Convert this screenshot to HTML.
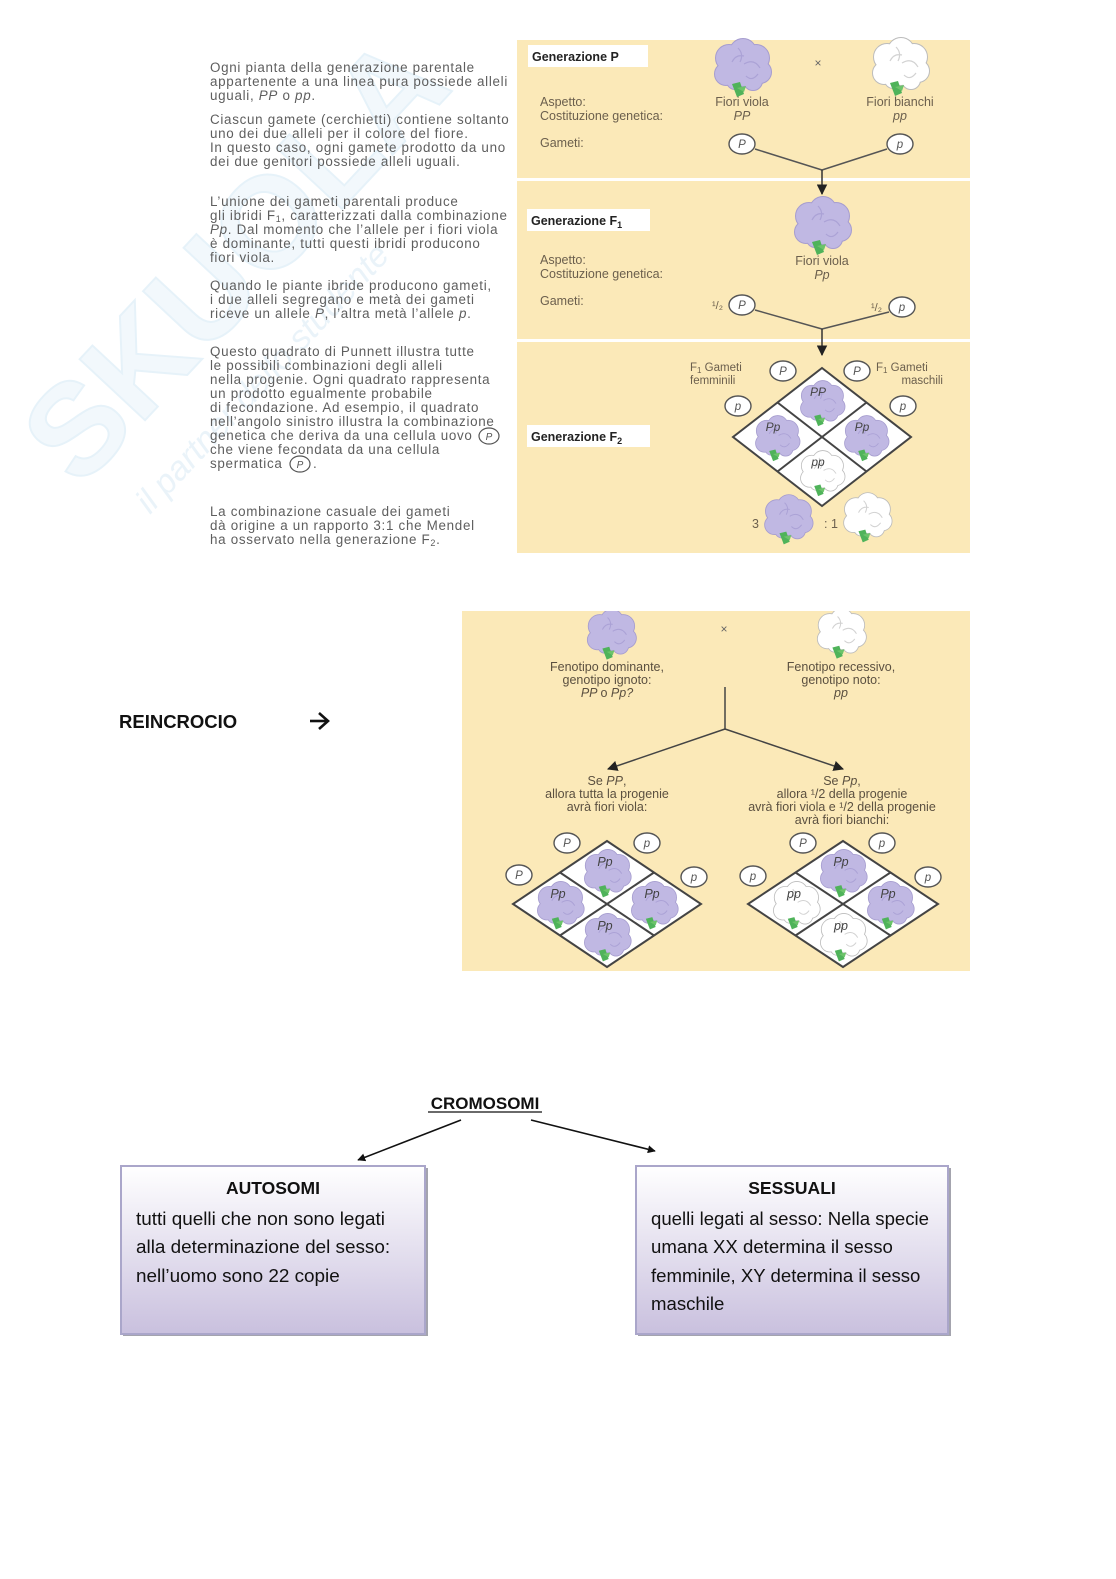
<!DOCTYPE html>
<html><head><meta charset="utf-8"><style>
html,body{margin:0;padding:0;background:#fff;}
svg{display:block;}
</style></head><body>
<svg xmlns="http://www.w3.org/2000/svg" width="1116" height="1579" viewBox="0 0 1116 1579" font-family="'Liberation Sans', sans-serif">
<defs>
<g id="cl">
<circle cx="-13" cy="-8" r="13"/>
<circle cx="1" cy="-14" r="13"/>
<circle cx="14" cy="-8" r="13"/>
<circle cx="18" cy="6" r="11"/>
<circle cx="-16" cy="8" r="11"/>
<circle cx="1" cy="5" r="15"/>
<circle cx="11" cy="15" r="9"/>
<circle cx="-7" cy="15" r="8"/>
</g>
<g id="fv">
<use href="#cl" fill="#a69dcf" stroke="#a69dcf" stroke-width="2"/>
<use href="#cl" fill="#c0b8e3"/>
<path d="M2 -2 q10 -6 16 4 M4 10 q6 6 12 -2 M-10 -4 q4 -8 12 -6 M-4 -18 q6 6 2 14" fill="none" stroke="#aba2d6" stroke-width="1.2"/>
<path d="M-10 18 L-5 31 L2 28 L-2 16 Z" fill="#4fb35a"/>
<path d="M-5 22 L4 20 L2 26 Z" fill="#6cc36a"/>
</g>
<g id="fw">
<use href="#cl" fill="#bcbcbc" stroke="#bcbcbc" stroke-width="2"/>
<use href="#cl" fill="#ffffff"/>
<path d="M2 -2 q10 -6 16 4 M4 10 q6 6 12 -2 M-10 -4 q4 -8 12 -6 M-4 -18 q6 6 2 14" fill="none" stroke="#d2d2d2" stroke-width="1.2"/>
<path d="M-10 18 L-5 31 L2 28 L-2 16 Z" fill="#4fb35a"/>
<path d="M-5 22 L4 20 L2 26 Z" fill="#6cc36a"/>
</g>
<marker id="ah" viewBox="0 0 10 10" refX="9" refY="5" markerWidth="7" markerHeight="7" orient="auto">
<path d="M0 0 L10 5 L0 10 Z" fill="#222"/>
</marker>
<marker id="ah2" viewBox="0 0 10 10" refX="9" refY="5" markerWidth="5" markerHeight="5" orient="auto">
<path d="M0 0 L10 5 L0 10 Z" fill="#111"/>
</marker>
<linearGradient id="bg" x1="0" y1="0" x2="0" y2="1">
<stop offset="0" stop-color="#ffffff"/>
<stop offset="1" stop-color="#c9c0de"/>
</linearGradient>
<clipPath id="rp"><rect x="462" y="611" width="508" height="360"/></clipPath>
</defs>

<!-- watermark -->
<g opacity="0.5">
<text transform="translate(80,490) rotate(-47)" font-size="130" font-weight="bold" fill="#e6f2fa" stroke="#cfe6f4" stroke-width="2">SKUOLA</text>
<text transform="translate(150,515) rotate(-47)" font-size="34" font-style="italic" fill="#d6e9f5">il partner dello studente</text>
</g>

<!-- left column text -->
<g font-size="13.4" letter-spacing="0.7" fill="#5e5e5e">
<text x="210" y="72">Ogni pianta della generazione parentale</text>
<text x="210" y="86">appartenente a una linea pura possiede alleli</text>
<text x="210" y="100">uguali, <tspan font-style="italic">PP</tspan> o <tspan font-style="italic">pp</tspan>.</text>
<text x="210" y="124">Ciascun gamete (cerchietti) contiene soltanto</text>
<text x="210" y="138">uno dei due alleli per il colore del fiore.</text>
<text x="210" y="152">In questo caso, ogni gamete prodotto da uno</text>
<text x="210" y="166">dei due genitori possiede alleli uguali.</text>
<text x="210" y="206">L’unione dei gameti parentali produce</text>
<text x="210" y="220">gli ibridi F<tspan font-size="9" dy="2">1</tspan><tspan dy="-2">, caratterizzati dalla combinazione</tspan></text>
<text x="210" y="234"><tspan font-style="italic">Pp</tspan>. Dal momento che l’allele per i fiori viola</text>
<text x="210" y="248">è dominante, tutti questi ibridi producono</text>
<text x="210" y="262">fiori viola.</text>
<text x="210" y="290">Quando le piante ibride producono gameti,</text>
<text x="210" y="304">i due alleli segregano e metà dei gameti</text>
<text x="210" y="318">riceve un allele <tspan font-style="italic">P</tspan>, l’altra metà l’allele <tspan font-style="italic">p</tspan>.</text>
<text x="210" y="356">Questo quadrato di Punnett illustra tutte</text>
<text x="210" y="370">le possibili combinazioni degli alleli</text>
<text x="210" y="384">nella progenie. Ogni quadrato rappresenta</text>
<text x="210" y="398">un prodotto egualmente probabile</text>
<text x="210" y="412">di fecondazione. Ad esempio, il quadrato</text>
<text x="210" y="426">nell’angolo sinistro illustra la combinazione</text>
<text x="210" y="440">genetica che deriva da una cellula uovo</text>
<text x="210" y="454">che viene fecondata da una cellula</text>
<text x="210" y="468">spermatica</text>
<text x="313" y="468">.</text>
<text x="210" y="516">La combinazione casuale dei gameti</text>
<text x="210" y="530">dà origine a un rapporto 3:1 che Mendel</text>
<text x="210" y="544">ha osservato nella generazione F<tspan font-size="9" dy="2">2</tspan><tspan dy="-2">.</tspan></text>
</g>
<g fill="none" stroke="#555" stroke-width="1.2">
<ellipse cx="489" cy="436" rx="10" ry="8"/>
<ellipse cx="300" cy="464" rx="10" ry="8"/>
</g>
<g font-size="10" font-style="italic" fill="#555" text-anchor="middle">
<text x="489" y="440">P</text>
<text x="300" y="468">P</text>
</g>

<!-- TOP PANEL -->
<rect x="517" y="40" width="453" height="513" fill="#fbe9b8"/>
<rect x="517" y="178" width="453" height="3" fill="#ffffff"/>
<rect x="517" y="339" width="453" height="3" fill="#ffffff"/>

<!-- Generation P -->
<rect x="528" y="45" width="120" height="22" fill="#fff"/>
<text x="532" y="61" font-size="12.5" font-weight="bold" fill="#222">Generazione P</text>
<use href="#fv" transform="translate(742,66) scale(1.0)"/>
<text x="818" y="67" font-size="12" fill="#666" text-anchor="middle">×</text>
<use href="#fw" transform="translate(900,65) scale(1.0)"/>
<g font-size="12.5" fill="#6b5f4d">
<text x="540" y="106">Aspetto:</text>
<text x="540" y="120">Costituzione genetica:</text>
<text x="540" y="147">Gameti:</text>
<text x="540" y="264">Aspetto:</text>
<text x="540" y="278">Costituzione genetica:</text>
<text x="540" y="305">Gameti:</text>
</g>
<g font-size="12.5" fill="#6b5f4d" text-anchor="middle">
<text x="742" y="106">Fiori viola</text>
<text x="742" y="120" font-style="italic">PP</text>
<text x="900" y="106">Fiori bianchi</text>
<text x="900" y="120" font-style="italic">pp</text>
<text x="822" y="265">Fiori viola</text>
<text x="822" y="279" font-style="italic">Pp</text>
</g>
<g stroke="#555" stroke-width="1.5" fill="none">
<line x1="755" y1="149" x2="822" y2="170"/>
<line x1="887" y1="149" x2="822" y2="170"/>
<line x1="755" y1="310" x2="822" y2="329"/>
<line x1="889" y1="312" x2="822" y2="329"/>
</g>
<line x1="822" y1="170" x2="822" y2="194" stroke="#333" stroke-width="1.5" marker-end="url(#ah)"/>
<line x1="822" y1="329" x2="822" y2="355" stroke="#333" stroke-width="1.5" marker-end="url(#ah)"/>

<!-- gamete circles top -->
<g fill="#fff" stroke="#555" stroke-width="1.4">
<ellipse cx="742" cy="144" rx="13" ry="10"/>
<ellipse cx="900" cy="144" rx="13" ry="10"/>
<ellipse cx="742" cy="305" rx="13" ry="10"/>
<ellipse cx="902" cy="307" rx="13" ry="10"/>
<ellipse cx="783" cy="371" rx="13" ry="10"/>
<ellipse cx="857" cy="371" rx="13" ry="10"/>
<ellipse cx="738" cy="406" rx="13" ry="10"/>
<ellipse cx="903" cy="406" rx="13" ry="10"/>
</g>
<g font-size="11.5" font-style="italic" fill="#555" text-anchor="middle">
<text x="742" y="148">P</text>
<text x="900" y="148">p</text>
<text x="742" y="309">P</text>
<text x="902" y="311">p</text>
<text x="783" y="375">P</text>
<text x="857" y="375">P</text>
<text x="738" y="410">p</text>
<text x="903" y="410">p</text>
</g>
<g font-size="11" fill="#6b5f4d">
<text x="712" y="309">¹/₂</text>
<text x="871" y="311">¹/₂</text>
</g>

<!-- F1 -->
<rect x="527" y="209" width="123" height="22" fill="#fff"/>
<text x="531" y="225" font-size="12.5" font-weight="bold" fill="#222">Generazione F<tspan font-size="9" dy="3">1</tspan></text>
<use href="#fv" transform="translate(822,224) scale(1.0)"/>

<!-- F2 -->
<rect x="527" y="425" width="123" height="22" fill="#fff"/>
<text x="531" y="441" font-size="12.5" font-weight="bold" fill="#222">Generazione F<tspan font-size="9" dy="3">2</tspan></text>
<g font-size="11.5" fill="#6b5f4d">
<text x="690" y="371">F<tspan font-size="8" dy="2">1</tspan><tspan dy="-2"> Gameti</tspan></text>
<text x="690" y="384">femminili</text>
<text x="876" y="371">F<tspan font-size="8" dy="2">1</tspan><tspan dy="-2"> Gameti</tspan></text>
<text x="943" y="384" text-anchor="end">maschili</text>
</g>
<path d="M822 368 L911 437 L822 506 L733 437 Z" fill="#fff" stroke="#444" stroke-width="2"/>
<line x1="777.5" y1="402.5" x2="866.5" y2="471.5" stroke="#444" stroke-width="2"/>
<line x1="866.5" y1="402.5" x2="777.5" y2="471.5" stroke="#444" stroke-width="2"/>
<use href="#fv" transform="translate(822,402) scale(0.78)"/>
<use href="#fv" transform="translate(777,437) scale(0.78)"/>
<use href="#fv" transform="translate(866,437) scale(0.78)"/>
<use href="#fw" transform="translate(822,472) scale(0.78)"/>
<g font-size="12" font-style="italic" fill="#444" text-anchor="middle">
<text x="818" y="396">PP</text>
<text x="773" y="431">Pp</text>
<text x="862" y="431">Pp</text>
<text x="818" y="466">pp</text>
</g>
<text x="752" y="528" font-size="12.5" fill="#6b5f4d">3</text>
<use href="#fv" transform="translate(788,518) scale(0.85)"/>
<text x="824" y="528" font-size="12.5" fill="#6b5f4d">: 1</text>
<use href="#fw" transform="translate(867,516) scale(0.85)"/>

<!-- REINCROCIO label -->
<text x="119" y="728" font-size="18.5" font-weight="bold" fill="#111">REINCROCIO</text>
<line x1="310" y1="721" x2="326" y2="721" stroke="#111" stroke-width="2.6"/>
<path d="M319 713 L328 721 L319 729" fill="none" stroke="#111" stroke-width="2.6"/>

<!-- REINCROCIO PANEL -->
<rect x="462" y="611" width="508" height="360" fill="#fbe9b8"/>
<g clip-path="url(#rp)">
<use href="#fv" transform="translate(611,633) scale(0.86)"/>
<use href="#fw" transform="translate(841,632) scale(0.86)"/>
</g>
<text x="724" y="633" font-size="12" fill="#666" text-anchor="middle">×</text>
<g font-size="12.5" fill="#5b5040" text-anchor="middle">
<text x="607" y="671">Fenotipo dominante,</text>
<text x="607" y="684">genotipo ignoto:</text>
<text x="607" y="697" font-style="italic">PP <tspan font-style="normal">o</tspan> Pp?</text>
<text x="841" y="671">Fenotipo recessivo,</text>
<text x="841" y="684">genotipo noto:</text>
<text x="841" y="697" font-style="italic">pp</text>
<text x="607" y="785">Se <tspan font-style="italic">PP</tspan>,</text>
<text x="607" y="798">allora tutta la progenie</text>
<text x="607" y="811">avrà fiori viola:</text>
<text x="842" y="785">Se <tspan font-style="italic">Pp</tspan>,</text>
<text x="842" y="798">allora ¹/2 della progenie</text>
<text x="842" y="811">avrà fiori viola e ¹/2 della progenie</text>
<text x="842" y="824">avrà fiori bianchi:</text>
</g>
<line x1="725" y1="687" x2="725" y2="729" stroke="#444" stroke-width="1.5"/>
<line x1="725" y1="729" x2="608" y2="769" stroke="#444" stroke-width="1.5" marker-end="url(#ah)"/>
<line x1="725" y1="729" x2="843" y2="769" stroke="#444" stroke-width="1.5" marker-end="url(#ah)"/>

<!-- left punnett -->
<path d="M607 841 L701 904 L607 967 L513 904 Z" fill="#fff" stroke="#444" stroke-width="2"/>
<line x1="560" y1="872.5" x2="654" y2="935.5" stroke="#444" stroke-width="2"/>
<line x1="654" y1="872.5" x2="560" y2="935.5" stroke="#444" stroke-width="2"/>
<use href="#fv" transform="translate(607,872) scale(0.82)"/>
<use href="#fv" transform="translate(560,904) scale(0.82)"/>
<use href="#fv" transform="translate(654,904) scale(0.82)"/>
<use href="#fv" transform="translate(607,936) scale(0.82)"/>
<!-- right punnett -->
<path d="M843 841 L938 904 L843 967 L748 904 Z" fill="#fff" stroke="#444" stroke-width="2"/>
<line x1="795.5" y1="872.5" x2="890.5" y2="935.5" stroke="#444" stroke-width="2"/>
<line x1="890.5" y1="872.5" x2="795.5" y2="935.5" stroke="#444" stroke-width="2"/>
<use href="#fv" transform="translate(843,872) scale(0.82)"/>
<use href="#fw" transform="translate(796,904) scale(0.82)"/>
<use href="#fv" transform="translate(890,904) scale(0.82)"/>
<use href="#fw" transform="translate(843,936) scale(0.82)"/>
<g font-size="12.5" font-style="italic" fill="#444" text-anchor="middle">
<text x="605" y="866">Pp</text>
<text x="558" y="898">Pp</text>
<text x="652" y="898">Pp</text>
<text x="605" y="930">Pp</text>
<text x="841" y="866">Pp</text>
<text x="794" y="898">pp</text>
<text x="888" y="898">Pp</text>
<text x="841" y="930">pp</text>
</g>
<g fill="#fff" stroke="#555" stroke-width="1.4">
<ellipse cx="567" cy="843" rx="13" ry="10"/>
<ellipse cx="647" cy="843" rx="13" ry="10"/>
<ellipse cx="519" cy="875" rx="13" ry="10"/>
<ellipse cx="694" cy="877" rx="13" ry="10"/>
<ellipse cx="803" cy="843" rx="13" ry="10"/>
<ellipse cx="882" cy="843" rx="13" ry="10"/>
<ellipse cx="753" cy="876" rx="13" ry="10"/>
<ellipse cx="928" cy="877" rx="13" ry="10"/>
</g>
<g font-size="11.5" font-style="italic" fill="#555" text-anchor="middle">
<text x="567" y="847">P</text>
<text x="647" y="847">p</text>
<text x="519" y="879">P</text>
<text x="694" y="881">p</text>
<text x="803" y="847">P</text>
<text x="882" y="847">p</text>
<text x="753" y="880">p</text>
<text x="928" y="881">p</text>
</g>

<!-- CROMOSOMI -->
<text x="485" y="1109" font-size="17" font-weight="bold" fill="#111" text-anchor="middle">CROMOSOMI</text>
<line x1="428" y1="1112" x2="542" y2="1112" stroke="#111" stroke-width="1.3"/>
<line x1="461" y1="1120" x2="358" y2="1160" stroke="#111" stroke-width="1.6" marker-end="url(#ah2)"/>
<line x1="531" y1="1120" x2="655" y2="1151" stroke="#111" stroke-width="1.6" marker-end="url(#ah2)"/>

<!-- boxes -->
<rect x="123" y="1168" width="305" height="168" fill="#a4a4ae"/>
<rect x="121" y="1166" width="304" height="168" fill="url(#bg)" stroke="#aaa6ca" stroke-width="2"/>
<rect x="638" y="1168" width="313" height="168" fill="#a4a4ae"/>
<rect x="636" y="1166" width="312" height="168" fill="url(#bg)" stroke="#aaa6ca" stroke-width="2"/>

<g fill="#111">
<text x="273" y="1194" font-size="17.5" font-weight="bold" text-anchor="middle">AUTOSOMI</text>
<text x="136" y="1225" font-size="18.9">tutti quelli che non sono legati</text>
<text x="136" y="1253" font-size="18.9">alla determinazione del sesso:</text>
<text x="136" y="1282" font-size="18.9">nell’uomo sono 22 copie</text>
<text x="792" y="1194" font-size="17.5" font-weight="bold" text-anchor="middle">SESSUALI</text>
<text x="651" y="1225" font-size="18.6">quelli legati al sesso: Nella specie</text>
<text x="651" y="1253" font-size="18.6">umana XX determina il sesso</text>
<text x="651" y="1282" font-size="18.6">femminile, XY determina il sesso</text>
<text x="651" y="1310" font-size="18.6">maschile</text>
</g>
</svg>
</body></html>
